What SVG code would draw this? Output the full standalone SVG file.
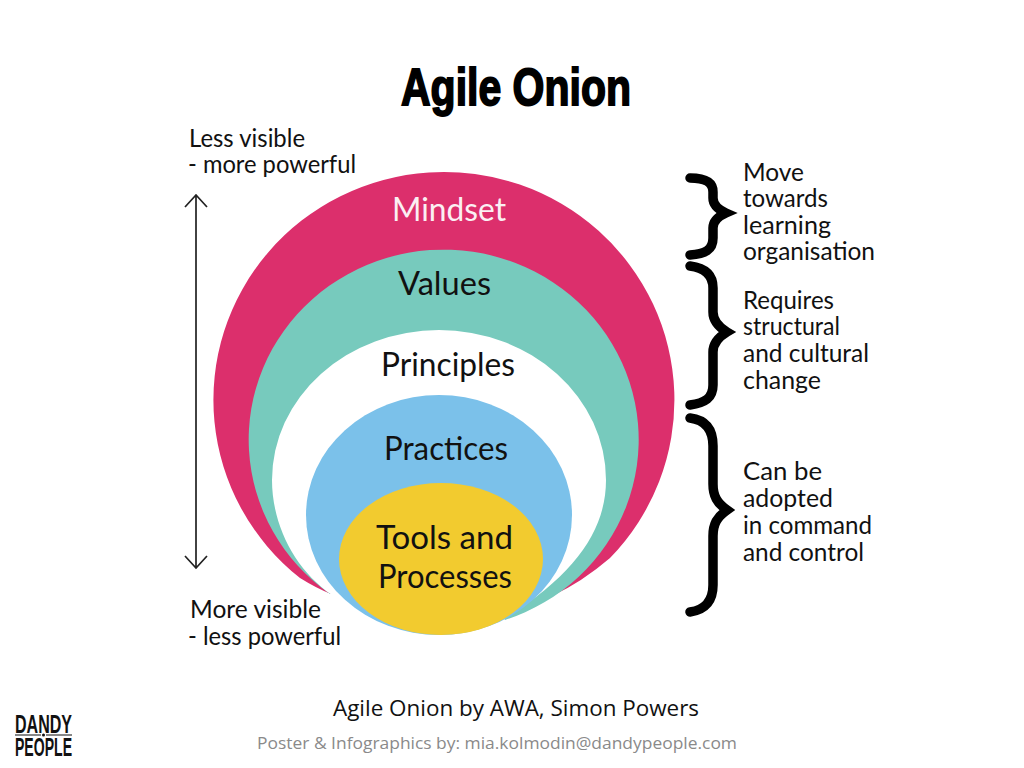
<svg xmlns="http://www.w3.org/2000/svg" width="1024" height="768" viewBox="0 0 1024 768">
<style>
.l{font-family:"Lato","Noto Sans",sans-serif;fill:#111;font-size:24.5px}
.n{font-family:"Lato","Noto Sans",sans-serif;fill:#111;font-size:32px}
.w{fill:#fbeff3}
.b{fill:none;stroke:#000;stroke-width:9.500;stroke-linecap:round;stroke-linejoin:miter;stroke-miterlimit:6}
.a{fill:none;stroke:#222;stroke-width:1.700}
.c{font-family:"Open Sans","Noto Sans",sans-serif}
.t{font-family:"Liberation Sans",Arial,sans-serif;font-weight:bold}
</style>
<rect width="1024" height="768" fill="#fff"/>
<text id="title" x="401" y="105" class="t" font-size="52" fill="#000" stroke="#000" stroke-width="1.800" stroke-linejoin="miter" textLength="230" lengthAdjust="spacingAndGlyphs">Agile Onion</text>
<g id="mindset"><path d="M331,594 Q316,588 300,578 A230.500,228 0 1 1 610,558 Q582,582 552,596 L440,500 Z" fill="#dc2f6c"/><text class="n w" x="392" y="221" textLength="114" lengthAdjust="spacingAndGlyphs">Mindset</text></g>
<g id="values"><path d="M330,594 A195,190 0 1 1 505,620 L440,500 Z" fill="#77cabd"/><text class="n" x="398" y="295" textLength="93" lengthAdjust="spacingAndGlyphs">Values</text></g>
<g id="principles"><path d="M272,480 A167,150 0 0 1 606,480 C606,530 575,575 505,618 L440,500 L332,595 C295,570 272,525 272,480 Z" fill="#fff"/><text class="n" x="381" y="376" textLength="134" lengthAdjust="spacingAndGlyphs">Principles</text></g>
<g id="practices"><ellipse cx="439" cy="515" rx="133" ry="120" fill="#7bc1ea"/><text class="n" x="384" y="460" textLength="124" lengthAdjust="spacingAndGlyphs">Practices</text></g>
<g id="tools"><ellipse cx="441" cy="559" rx="102" ry="76" fill="#f2cb2f"/><text class="n" x="376" y="549" textLength="137" lengthAdjust="spacingAndGlyphs">Tools and</text><text class="n" x="378" y="588" textLength="134" lengthAdjust="spacingAndGlyphs">Processes</text></g>
<g id="connectors">
<path class="a" d="M196,195V568M185,207L196,195L207,207M185,556L196,568L207,556"/>
<path class="b" d="M690,178C705,178 713,182 713,192V198C713,204 717,209 726,213C717,217 713,222 713,228V238C713,250 705,254 690,255"/>
<path class="b" d="M690,266C705,268 713,275 713,288V312C713,320 717,326 727,332C717,338 713,344 713,352V385C713,398 705,403 690,405"/>
<path class="b" d="M690,418C706,420 713,430 713,446V484C713,496 717,503 727,510C717,517 713,524 713,536V585C713,600 706,610 690,612"/>
</g>
<g id="notes">
<text class="l" x="189" y="147" textLength="116" lengthAdjust="spacingAndGlyphs">Less visible</text>
<text class="l" x="188" y="173" textLength="168" lengthAdjust="spacingAndGlyphs">- more powerful</text>
<text class="l" x="190" y="618" textLength="131" lengthAdjust="spacingAndGlyphs">More visible</text>
<text class="l" x="188" y="645" textLength="153" lengthAdjust="spacingAndGlyphs">- less powerful</text>
<text class="l" x="743" y="181" textLength="61" lengthAdjust="spacingAndGlyphs">Move</text>
<text class="l" x="743" y="207" textLength="85" lengthAdjust="spacingAndGlyphs">towards</text>
<text class="l" x="743" y="234" textLength="88" lengthAdjust="spacingAndGlyphs">learning</text>
<text class="l" x="743" y="260" textLength="132" lengthAdjust="spacingAndGlyphs">organisation</text>
<text class="l" x="743" y="309" textLength="91" lengthAdjust="spacingAndGlyphs">Requires</text>
<text class="l" x="743" y="335" textLength="97" lengthAdjust="spacingAndGlyphs">structural</text>
<text class="l" x="743" y="362" textLength="126" lengthAdjust="spacingAndGlyphs">and cultural</text>
<text class="l" x="743" y="389" textLength="78" lengthAdjust="spacingAndGlyphs">change</text>
<text class="l" x="743" y="480" textLength="79" lengthAdjust="spacingAndGlyphs">Can be</text>
<text class="l" x="743" y="507" textLength="90" lengthAdjust="spacingAndGlyphs">adopted</text>
<text class="l" x="743" y="534" textLength="129" lengthAdjust="spacingAndGlyphs">in command</text>
<text class="l" x="743" y="561" textLength="121" lengthAdjust="spacingAndGlyphs">and control</text>
</g>
<text class="c" x="333" y="716" font-size="22" fill="#111" textLength="366" lengthAdjust="spacingAndGlyphs">Agile Onion by AWA, Simon Powers</text>
<text class="c" x="257" y="749" font-size="17" fill="#8a8a8a" textLength="480" lengthAdjust="spacingAndGlyphs">Poster &amp; Infographics by: mia.kolmodin@dandypeople.com</text>
<g id="logo">
<text class="t" x="15" y="733" font-size="25" fill="#111" textLength="57" lengthAdjust="spacingAndGlyphs">DANDY</text>
<path d="M15,735H41M46,735H72" stroke="#111" stroke-width="1"/><circle cx="43.500" cy="735" r="1.500" fill="#111"/>
<text class="t" x="15" y="756" font-size="25" fill="#111" textLength="57" lengthAdjust="spacingAndGlyphs">PEOPLE</text>
</g>
</svg>
